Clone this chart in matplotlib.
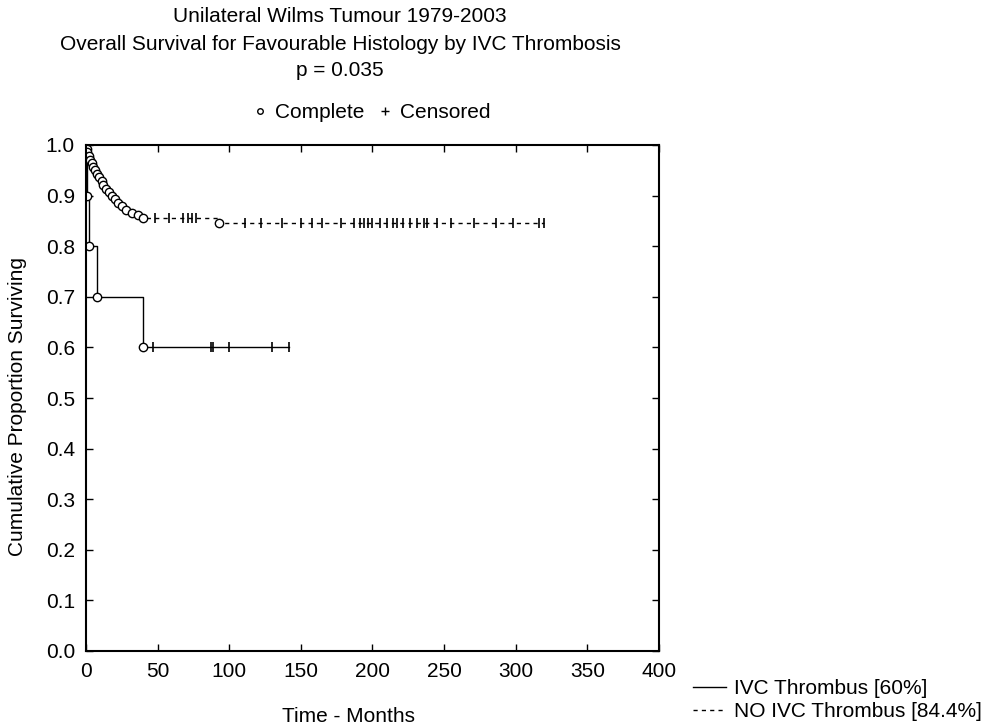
import numpy as np
import matplotlib
matplotlib.use("Agg")
import matplotlib.pyplot as plt
from matplotlib.lines import Line2D

# Dados (meses, proporcao acumulada)
ivc_t = [0, 1, 2, 8, 40]
ivc_s = [1.0, 0.9, 0.8, 0.7, 0.6]
ivc_cens = [47, 87, 89, 100, 130, 142]

noivc_t = [0, 0.5, 1, 2, 3, 4, 5, 6, 8, 9, 11, 12, 14, 16, 18, 20, 22, 25,
           28, 32, 36, 40, 93]
noivc_s = [1.0, 0.993, 0.986, 0.978, 0.971, 0.964, 0.957, 0.950, 0.943,
           0.936, 0.929, 0.921, 0.914, 0.907, 0.900, 0.893, 0.886, 0.879,
           0.872, 0.866, 0.861, 0.856, 0.845]
noivc_cens = [48, 58, 68, 71, 74, 77, 111, 122, 137, 150, 158, 165, 178,
              187, 191, 194, 197, 200, 205, 210, 214, 217, 221, 226, 231,
              236, 238, 245, 255, 271, 286, 298, 316, 320]

legenda = ["IVC Thrombus [60%]", "NO IVC Thrombus [84.4%]"]
titulo = ["Unilateral Wilms Tumour 1979-2003",
          "Overall Survival for Favourable Histology by IVC Thrombosis",
          "p = 0.035"]

tamanho_da_fonte = 15

plt.rcParams.update({"font.family": ["Liberation Sans", "DejaVu Sans"],
                     "font.size": tamanho_da_fonte,
                     "figure.dpi": 100})

W, H = 989, 725
fig = plt.figure(figsize=(W / 100, H / 100))
ax = fig.add_axes([86 / W, 1 - 651 / H, (659 - 86) / W, (651 - 145) / H])


def nivel(tempos, sobrev, t):
    # valor da curva em escada no tempo t
    i = np.searchsorted(tempos, t, side="right") - 1
    return np.asarray(sobrev)[i]


def curva(tempos, sobrev, cens, estilo):
    t_fim = max(max(cens), tempos[-1])
    tt = list(tempos) + [t_fim]
    ss = list(sobrev) + [sobrev[-1]]
    ax.step(tt, ss, where="post", color="black", lw=1.0, linestyle=estilo)
    ax.plot(tempos[1:], sobrev[1:], linestyle="none", marker="o",
            markersize=6, mfc="white", mec="black", mew=1.0)
    ax.plot(cens, nivel(tempos, sobrev, np.array(cens)), linestyle="none",
            marker="|", markersize=7, color="black", mew=1.2)


curva(ivc_t, ivc_s, ivc_cens, "-")
curva(noivc_t, noivc_s, noivc_cens, (0, (3, 3)))

ax.set_xlim(0, 400)
ax.set_ylim(0, 1.0)
ax.set_xticks(np.arange(0, 401, 50))
ax.set_yticks(np.arange(0, 1.01, 0.1))
ax.set_yticklabels(["%.1f" % v for v in np.arange(0, 1.01, 0.1)])
ax.tick_params(direction="in", top=True, right=True, length=5, width=1,
               labelsize=tamanho_da_fonte, pad=8)
for lado in ax.spines.values():
    lado.set_linewidth(1.5)

# titulos
for y, txt in zip([17, 45, 70], titulo):
    fig.text(340 / W, 1 - y / H, txt, ha="center", va="center")

fig.text(349 / W, 1 - 717 / H, "Time - Months", ha="center", va="center")
fig.text(18 / W, 1 - 407 / H, "Cumulative Proportion Surviving",
         ha="center", va="center", rotation=90)

# legenda de marcadores
marc = [Line2D([], [], linestyle="none", marker="o", markersize=4,
               mfc="white", mec="black"),
        Line2D([], [], linestyle="none", marker="+", markersize=6,
               color="black")]
fig.legend(marc, ["Complete", "Censored"], ncol=2, frameon=False,
           loc="center", bbox_to_anchor=(370 / W, 1 - 113 / H),
           handlelength=1.0, handletextpad=0.2, columnspacing=0.5)

# legenda das curvas
linhas = [Line2D([], [], color="black", lw=1.0, linestyle="-"),
          Line2D([], [], color="black", lw=1.0, linestyle=(0, (3, 3)))]
fig.legend(linhas, legenda, frameon=False, loc="center left",
           bbox_to_anchor=(674 / W, 1 - 700 / H),
           handlelength=1.6, handletextpad=0.4, labelspacing=0.2)

fig.savefig("out.png", dpi=100)
